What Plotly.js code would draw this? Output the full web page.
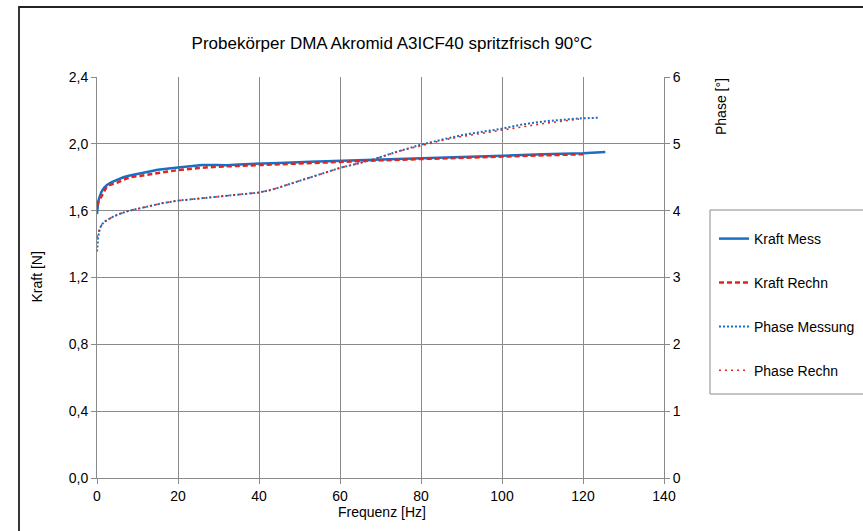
<!DOCTYPE html>
<html>
<head>
<meta charset="utf-8">
<script src="https://cdn.plot.ly/plotly-3.0.1.min.js"></script>
<style>
html,body{margin:0;padding:0;background:#fff;}
#chart{width:863px;height:531px;}
</style>
</head>
<body>
<div id="chart"></div>
<script>
// ---- data ----
var kraftMessFreq = [0, 0.1, 0.3, 0.6, 1.1, 1.7, 2.4, 3.5, 4.9, 6.5, 8.1, 10.5, 12.7, 15, 17.5, 20, 23, 26, 29.5, 32, 35, 39.8, 45, 52.6, 60, 70, 79.5, 90, 100, 110, 120, 125.5];
var kraftMessVal  = [1.58, 1.62, 1.655, 1.68, 1.713, 1.735, 1.753, 1.77, 1.783, 1.80, 1.81, 1.82, 1.833, 1.845, 1.85, 1.859, 1.866, 1.873, 1.874, 1.872, 1.877, 1.883, 1.886, 1.893, 1.899, 1.907, 1.916, 1.923, 1.93, 1.937, 1.944, 1.951];

var kraftRechnFreq = [0, 0.3, 0.6, 1.1, 1.7, 2.4, 3.5, 4.9, 6.5, 8.1, 10.5, 13.1, 16, 20, 25, 29.5, 35, 39.8, 45, 52.6, 60, 70, 80, 90, 100, 110, 120];
var kraftRechnVal  = [1.63, 1.65, 1.665, 1.685, 1.715, 1.743, 1.757, 1.767, 1.785, 1.80, 1.808, 1.817, 1.83, 1.843, 1.855, 1.863, 1.868, 1.873, 1.879, 1.887, 1.893, 1.901, 1.909, 1.917, 1.924, 1.931, 1.938];

var phaseMessFreq = [0, 0.1, 0.3, 0.74, 1.3, 2.0, 3, 4.0, 5, 6.5, 8, 9.8, 13.1, 16, 20, 25, 29.5, 35, 39.8, 43, 46, 49.7, 52.6, 56, 60, 64, 68.4, 74, 79.5, 85, 90, 95, 99.4, 105, 110.9, 115, 119, 123.8];
var phaseMessVal  = [3.39, 3.5, 3.61, 3.74, 3.80, 3.84, 3.88, 3.91, 3.94, 3.975, 4.0, 4.025, 4.07, 4.11, 4.15, 4.18, 4.21, 4.24, 4.27, 4.31, 4.37, 4.44, 4.50, 4.57, 4.64, 4.70, 4.77, 4.88, 4.98, 5.06, 5.13, 5.18, 5.22, 5.29, 5.34, 5.36, 5.38, 5.39];

var phaseRechnFreq = [0, 0.3, 0.74, 1.3, 2.0, 3, 4.0, 5, 6.5, 8, 9.8, 13.1, 16, 20, 25, 29.5, 35, 39.8, 43, 46, 49.7, 52.6, 56, 60, 64, 68.4, 74, 79.5, 85, 90, 95, 99.4, 105, 110.9, 115, 119];
var phaseRechnVal  = [3.6, 3.66, 3.75, 3.80, 3.84, 3.88, 3.91, 3.94, 3.975, 4.0, 4.025, 4.07, 4.11, 4.15, 4.18, 4.21, 4.24, 4.27, 4.31, 4.37, 4.44, 4.50, 4.57, 4.64, 4.70, 4.77, 4.88, 4.97, 5.05, 5.11, 5.16, 5.20, 5.26, 5.31, 5.34, 5.37];

var seriesNames = ['Kraft Mess', 'Kraft Rechn', 'Phase Messung', 'Phase Rechn'];
var titleText = 'Probekörper DMA Akromid A3ICF40 spritzfrisch 90°C';
var xTitle = 'Frequenz [Hz]';
var yTitle = 'Kraft [N]';
var y2Title = 'Phase [°]';

var FONT = 'Liberation Sans, Arial, sans-serif';
var BLUE = '#1a6fc4';
var RED = '#e0261c';

var traces = [
  {x: kraftMessFreq, y: kraftMessVal, name: seriesNames[0], type: 'scatter', mode: 'lines',
   line: {color: BLUE, width: 2.5}, legendgroup: 'a'},
  {x: kraftRechnFreq, y: kraftRechnVal, name: seriesNames[1], type: 'scatter', mode: 'lines',
   line: {color: RED, width: 2.5, dash: '5px,3px'}, legendgroup: 'b'},
  {x: phaseMessFreq, y: phaseMessVal, name: seriesNames[2], type: 'scatter', mode: 'lines', yaxis: 'y2',
   line: {color: BLUE, width: 2, dash: '2px,2px'}, legendgroup: 'c'},
  {x: phaseRechnFreq, y: phaseRechnVal, name: seriesNames[3], type: 'scatter', mode: 'lines', yaxis: 'y2',
   line: {color: RED, width: 1.6, dash: '2px,4px'}, legendgroup: 'd'}
];

var GRID = '#8a8a8a';
var TF = {family: FONT, size: 14, color: '#000'};
var layout = {
  width: 863, height: 531,
  margin: {l: 97, r: 199, t: 77, b: 53, autoexpand: false},
  paper_bgcolor: '#fff', plot_bgcolor: '#fff',
  separators: ',.',
  showlegend: true,
  font: {family: FONT, size: 14, color: '#000'},
  title: {text: titleText, font: {family: FONT, size: 17, color: '#000'},
          x: (392 - 97) / 567, xref: 'paper', y: 1 - 43/531, yref: 'container', xanchor: 'center', yanchor: 'middle'},
  xaxis: {range: [0, 140], dtick: 20, tick0: 0, showgrid: true, gridcolor: GRID, gridwidth: 1,
          showline: true, linecolor: GRID, linewidth: 1, ticks: 'outside', ticklen: 5, tickcolor: GRID,
          zeroline: false, tickfont: TF, fixedrange: true},
  yaxis: {range: [0, 2.4], dtick: 0.4, tick0: 0, tickformat: '.1f', showgrid: true, gridcolor: GRID, gridwidth: 1,
          showline: true, linecolor: GRID, linewidth: 1, ticks: 'outside', ticklen: 5, tickcolor: GRID,
          zeroline: false, tickfont: TF, fixedrange: true},
  yaxis2: {range: [0, 6], dtick: 1, tick0: 0, overlaying: 'y', side: 'right', showgrid: false,
           showline: true, linecolor: GRID, linewidth: 1, ticks: 'outside', ticklen: 5, tickcolor: GRID,
           zeroline: false, tickfont: TF, fixedrange: true},
  legend: {x: (714 - 97) / 567, xanchor: 'left', y: (478 - 223) / 401, yanchor: 'top',
           bgcolor: 'rgba(0,0,0,0)', borderwidth: 0, tracegroupgap: 22.7,
           font: TF, itemclick: false, itemdoubleclick: false},
  annotations: [
    {text: yTitle, xref: 'paper', yref: 'paper', x: (36 - 97) / 567, y: 0.5, textangle: -90,
     showarrow: false, xanchor: 'center', yanchor: 'middle', font: TF},
    {text: y2Title, xref: 'paper', yref: 'paper', x: (721 - 97) / 567, y: (478 - 107) / 401, textangle: -90,
     showarrow: false, xanchor: 'center', yanchor: 'middle', font: TF},
    {text: xTitle, xref: 'paper', yref: 'paper', x: (382 - 97) / 567, y: (478 - 512) / 401,
     showarrow: false, xanchor: 'center', yanchor: 'middle', font: TF}
  ],
  shapes: [
    // outer chart frame
    {type: 'rect', xref: 'paper', yref: 'paper', x0: (19 - 97) / 567, x1: (880 - 97) / 567,
     y0: (478 - 545) / 401, y1: (478 - 7) / 401, line: {color: '#222', width: 1.8}, layer: 'below'},
    // legend box
    {type: 'rect', xref: 'paper', yref: 'paper', x0: (710 - 97) / 567, x1: (880 - 97) / 567,
     y0: (478 - 394) / 401, y1: (478 - 210) / 401, line: {color: '#8a8a8a', width: 1}, layer: 'below'}
  ]
};

Plotly.newPlot('chart', traces, layout, {displayModeBar: false, staticPlot: true});
</script>
</body>
</html>
